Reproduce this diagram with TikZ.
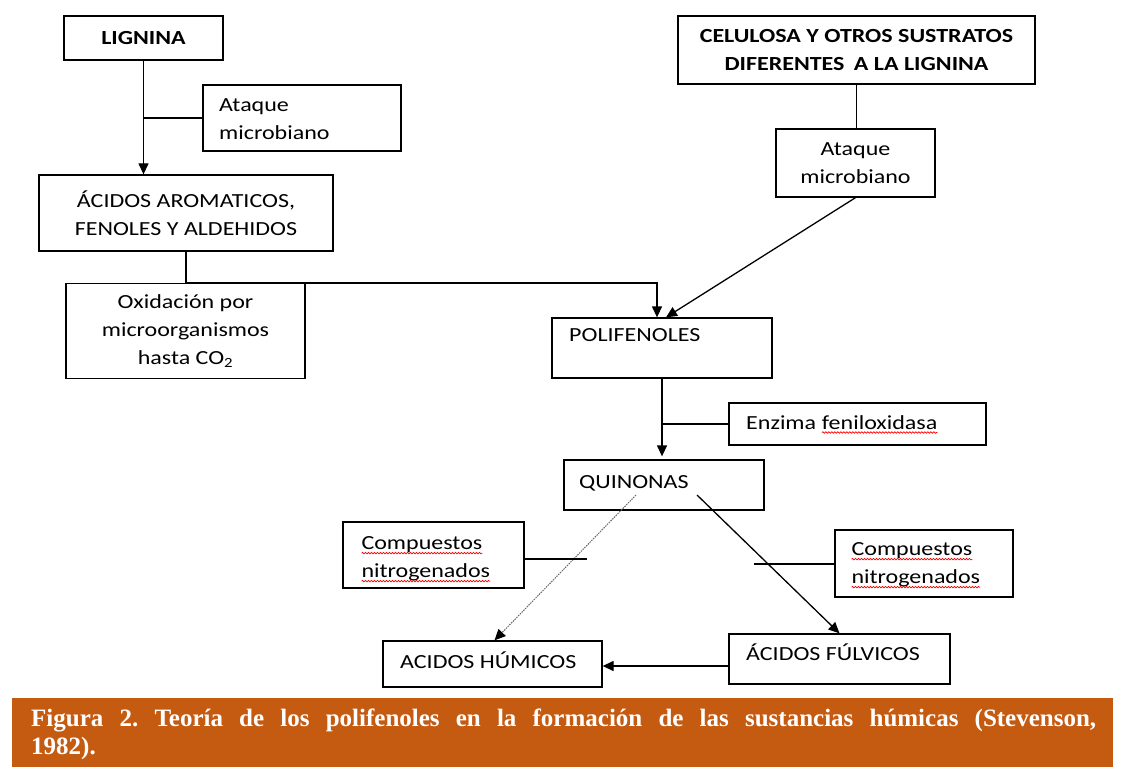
\documentclass[tikz,border=0pt]{standalone}
\usepackage{fontspec}
\usetikzlibrary{arrows.meta,decorations.pathmorphing}
\newfontfamily\diagfont{Carlito}[FakeStretch=1.2]
\newfontfamily\capfont{Liberation Serif}
\definecolor{capcol}{HTML}{C55A11}
\newcommand\dfont{\diagfont\fontsize{20}{28}\selectfont}
\newcommand\spellmark[1]{\tikz[baseline=(spw.base)]{\node[inner sep=0pt,outer sep=0pt] (spw) {#1};\draw[red,line width=0.7pt,decorate,decoration={snake,amplitude=0.8pt,segment length=3pt}] ([yshift=-3.5pt]spw.base west) -- ([yshift=-3.5pt]spw.base east);}}
\tikzset{
  box/.style={draw, line width=1.3pt, inner sep=0pt},
  lbl/.style={inner sep=0pt, align=left},
  conn/.style={line width=1.3pt},
  arr/.style={conn, -{Triangle[length=11pt,width=10pt]}},
  dotarr/.style={line width=1pt, black!60, dash pattern=on 1.5pt off 1pt, -{Triangle[length=11pt,width=10pt,color=black,fill=black]}},
}
\begin{document}
\begin{tikzpicture}[x=1pt,y=-1pt,font=\dfont]
\useasboundingbox (0,0) rectangle (1121,767);
% boxes
\node[box, minimum width=159pt, minimum height=44pt, font=\dfont\bfseries] (lig) at (143.5,38) {LIGNINA};
\node[box, minimum width=198pt, minimum height=66pt] (at1) at (302,118) {};
\node[lbl, anchor=west] (at1t) at (219,119) {Ataque\\microbiano};
\node[box, minimum width=294pt, minimum height=76pt, align=center] (aro) at (186,213) {ÁCIDOS AROMATICOS,\\FENOLES Y ALDEHIDOS};
\node[box, minimum width=239pt, minimum height=95pt, align=center] (oxi) at (185.5,331) {Oxidación por\\microorganismos\\hasta CO\textsubscript{2}};
\node[box, minimum width=357pt, minimum height=68pt, align=center, font=\dfont\bfseries] (cel) at (856.5,50) {CELULOSA Y OTROS SUSTRATOS\\DIFERENTES\hspace{4pt} A LA LIGNINA};
\node[box, minimum width=159pt, minimum height=68pt, align=center] (at2) at (855.5,163) {Ataque\\microbiano};
\node[box, minimum width=220pt, minimum height=60pt] (pol) at (662,348) {};
\node[lbl, anchor=base west] (polt) at (569,341) {POLIFENOLES};
\node[box, minimum width=257pt, minimum height=42pt] (enz) at (857.5,424) {};
\node[lbl, anchor=base west] (enzt) at (746,429) {Enzima \spellmark{feniloxidasa}};
\node[box, minimum width=200pt, minimum height=50pt] (qui) at (664,485) {};
\node[lbl, anchor=base west] (quit) at (579,488) {QUINONAS};
\node[box, minimum width=181pt, minimum height=66pt] (cn1) at (433.5,555) {};
\node[lbl, anchor=west] (cn1t) at (361,559.5) {\spellmark{Compuestos}\\\spellmark{nitrogenados}};
\node[box, minimum width=178pt, minimum height=67pt] (cn2) at (924,563.5) {};
\node[lbl, anchor=west] (cn2t) at (851,565.5) {\spellmark{Compuestos}\\\spellmark{nitrogenados}};
\node[box, minimum width=219pt, minimum height=46pt] (hum) at (492.5,664) {};
\node[lbl, anchor=base west] (humt) at (400,668.5) {ACIDOS HÚMICOS};
\node[box, minimum width=221pt, minimum height=50pt] (ful) at (839.5,659) {};
\node[lbl, anchor=base west] (fult) at (746,660.5) {ÁCIDOS FÚLVICOS};
% free ends
\coordinate (cn1end) at (587,559);
\coordinate (cn2end) at (754,564);
% connectors
\draw[arr] (lig.south) -- (lig.south |- aro.north);
\draw[conn] (at1.west) -- (at1.west -| lig.south);
\draw[arr] (aro.south) -- (aro.south |- oxi.north) -| ([xshift=-5pt]pol.north);
\draw[conn] (cel.south) -- (cel.south |- at2.north);
\draw[arr] (at2.south) -- ([xshift=4pt]pol.north);
\draw[arr, shorten >=3pt] (pol.south) -- (pol.south |- qui.north);
\draw[conn] (enz.west) -- (enz.west -| pol.south);
\draw[dotarr] ([xshift=-28pt,yshift=-10pt]qui.center) -- ([xshift=2pt]hum.north);
\draw[arr] ([xshift=33pt,yshift=-10pt]qui.center) -- (ful.north);
\draw[conn] (cn1.east |- cn1end) -- (cn1end);
\draw[conn] (cn2.west |- cn2end) -- (cn2end);
\draw[arr] ([yshift=-7pt]ful.west) -- ([yshift=-7pt]ful.west -| hum.east);
% caption
\node[fill=capcol, inner sep=0pt, minimum width=1101pt, minimum height=69pt, anchor=north west] (capbg) at (12,698) {};
\node[inner sep=0pt, anchor=north west, text width=1065pt, align=justify, text=white, font=\capfont\bfseries\fontsize{25}{28}\selectfont\frenchspacing] (capt) at (31,709) {\noindent Figura 2. Teoría de los polifenoles en la formación de las sustancias húmicas (Stevenson,\linebreak 1982).};
\end{tikzpicture}
\end{document}
